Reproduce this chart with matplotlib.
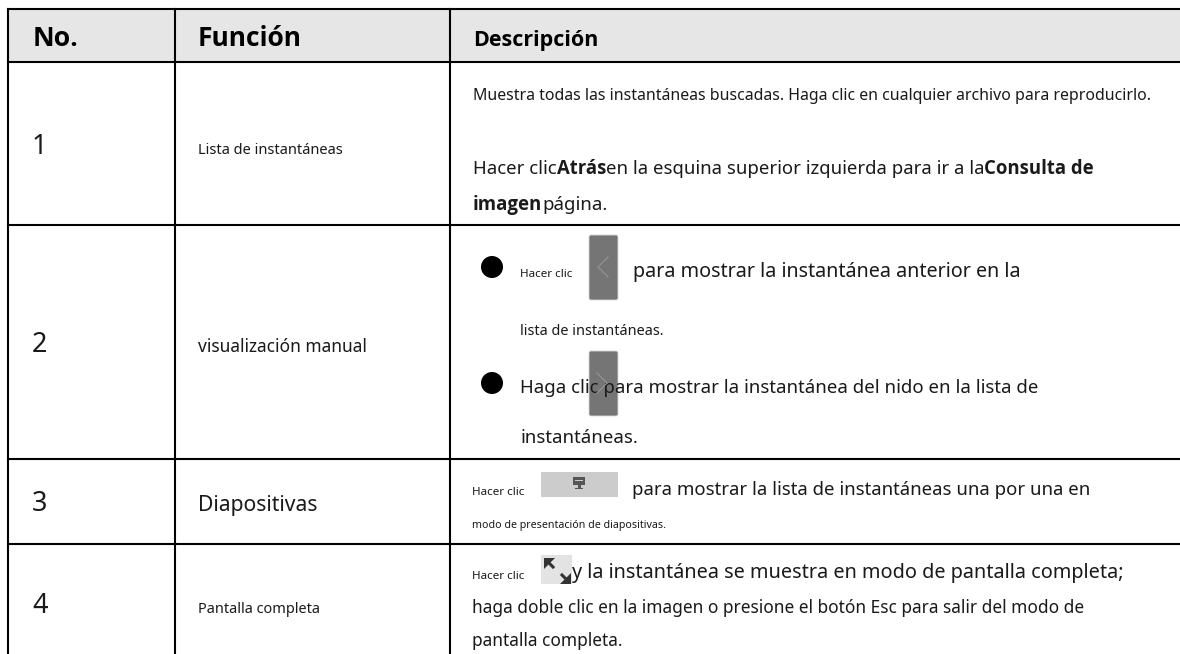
import matplotlib
matplotlib.use("Agg")
import matplotlib.pyplot as plt
from matplotlib.patches import Rectangle, FancyBboxPatch, Ellipse, Polygon

plt.rcParams['font.family'] = ['Noto Sans', 'DejaVu Sans']
BOLD_FAMILY = ['Open Sans', 'DejaVu Sans']

headers = ["No.", "Función", "Descripción"]
header_sizes = [19.2, 19.0, 15.5]
numbers = ["1", "2", "3", "4"]
functions = ["Lista de instantáneas", "visualización manual", "Diapositivas", "Pantalla completa"]
function_sizes = [10.5, 12.5, 15.2, 10.45]
column_edges = [8, 175, 450]
row_edges = [9, 62, 225, 459, 544]

# Each line: x, baseline y, list of (text, size, bold)
description_lines = [
    (473, 99.5, [("Muestra todas las instantáneas buscadas. Haga clic en cualquier archivo para reproducirlo.", 11.46, False)]),
    (473, 174, [("Hacer clic", 13.4, False), ("Atrás", 13.35, True),
                ("en la esquina superior izquierda para ir a la", 13.35, False), ("Consulta de", 13.35, True)]),
    (473, 210, [("imagen", 13.4, True), ("página.", 13.4, False)]),
    (520, 277, [("Hacer clic", 8.4, False)]),
    (633, 277, [("para mostrar la instantánea anterior en la", 14.2, False)]),
    (520, 335, [("lista de instantáneas.", 10.4, False)]),
    (520, 393, [("Haga clic para mostrar la instantánea del nido en la lista de", 13.4, False)]),
    (520, 443, [("instantáneas.", 13.4, False)]),
    (472, 495, [("Hacer clic", 8.4, False)]),
    (632, 495, [("para mostrar la lista de instantáneas una por una en", 13.35, False)]),
    (472, 528, [("modo de presentación de diapositivas.", 7.7, False)]),
    (472, 579, [("Hacer clic", 8.4, False)]),
    (572, 578, [("y la instantánea se muestra en modo de pantalla completa;", 14.3, False)]),
    (472, 613, [("haga doble clic en la imagen o presione el botón Esc para salir del modo de", 12.45, False)]),
    (472, 646, [("pantalla completa.", 12.45, False)]),
]
bullets = [(492, 267), (492, 383)]

fig = plt.figure(figsize=(11.8, 6.54), dpi=100)
ax = fig.add_axes([0, 0, 1, 1])
ax.set_xlim(0, 1180)
ax.set_ylim(654, 0)
ax.axis("off")
renderer = fig.canvas.get_renderer()

ax.add_patch(Rectangle((column_edges[0], row_edges[0]), 1180 - column_edges[0],
                       row_edges[1] - row_edges[0], fc="#e6e6e6", ec="none", zorder=0))
for x in column_edges:
    ax.plot([x, x], [row_edges[0], 654], color="black", lw=1.5, zorder=5, solid_capstyle="projecting")
for y in row_edges:
    ax.plot([column_edges[0], 1180], [y, y], color="black", lw=1.5, zorder=5, solid_capstyle="projecting")

for t, x, s in zip(headers, [33, 198, 473], header_sizes):
    ax.text(x, 46, t, fontsize=s, fontweight="bold", family=BOLD_FAMILY, color="black")

for n, y in zip(numbers, [153.5, 352, 511, 613]):
    ax.text(32, y, n, fontsize=19.5, color="#1a1a1a")
for f, s, y in zip(functions, function_sizes, [154.5, 352, 511, 613]):
    ax.text(198, y, f, fontsize=s, color="#1a1a1a")

for x, y, runs in description_lines:
    cursor = x
    for t, s, b in runs:
        kw = dict(fontweight="bold", family=BOLD_FAMILY) if b else {}
        txt = ax.text(cursor, y, t, fontsize=s, color="#1a1a1a", zorder=6, **kw)
        cursor = txt.get_window_extent(renderer).x1

for x, y in bullets:
    ax.add_patch(Ellipse((x, y), 22, 22, fc="black", ec="none"))

# icon buttons
ax.add_patch(FancyBboxPatch((589, 235), 29, 65, boxstyle="round,pad=0,rounding_size=2", fc="#757575", ec="#d8d8d8", lw=0.6, zorder=4))
ax.plot([608, 598, 608], [257, 267, 277], color="#929292", lw=0.9, zorder=7)
ax.add_patch(FancyBboxPatch((589, 351), 29, 65, boxstyle="round,pad=0,rounding_size=2", fc="#757575", ec="#d8d8d8", lw=0.6, zorder=4))
ax.plot([597, 607, 597], [373, 383, 393], color="#929292", lw=0.9, zorder=7)

ax.add_patch(Rectangle((541, 472), 77, 25, fc="#cccccc", ec="none", zorder=2))
ax.add_patch(Rectangle((573, 477), 12, 8, fc="#555555", ec="none", zorder=3))
ax.add_patch(Rectangle((575, 480), 8, 1.2, fc="#cccccc", ec="none", zorder=3))
ax.add_patch(Rectangle((577.5, 485), 3, 3, fc="#555555", ec="none", zorder=3))
ax.add_patch(Rectangle((575, 488), 8, 1, fc="#555555", ec="none", zorder=3))

ax.add_patch(Rectangle((541, 555), 31, 29, fc="#e3e3e3", ec="none", zorder=2))
ax.add_patch(Polygon([(544, 558), (555, 558), (544, 569)], fc="#333333", ec="none", zorder=3))
ax.plot([549, 553], [563, 567], color="#333333", lw=2.2, zorder=3)
ax.add_patch(Polygon([(571, 584), (560, 584), (571, 573)], fc="#333333", ec="none", zorder=3))
ax.plot([566, 562], [579, 575], color="#333333", lw=2.2, zorder=3)

fig.savefig("out.png", dpi=100)
